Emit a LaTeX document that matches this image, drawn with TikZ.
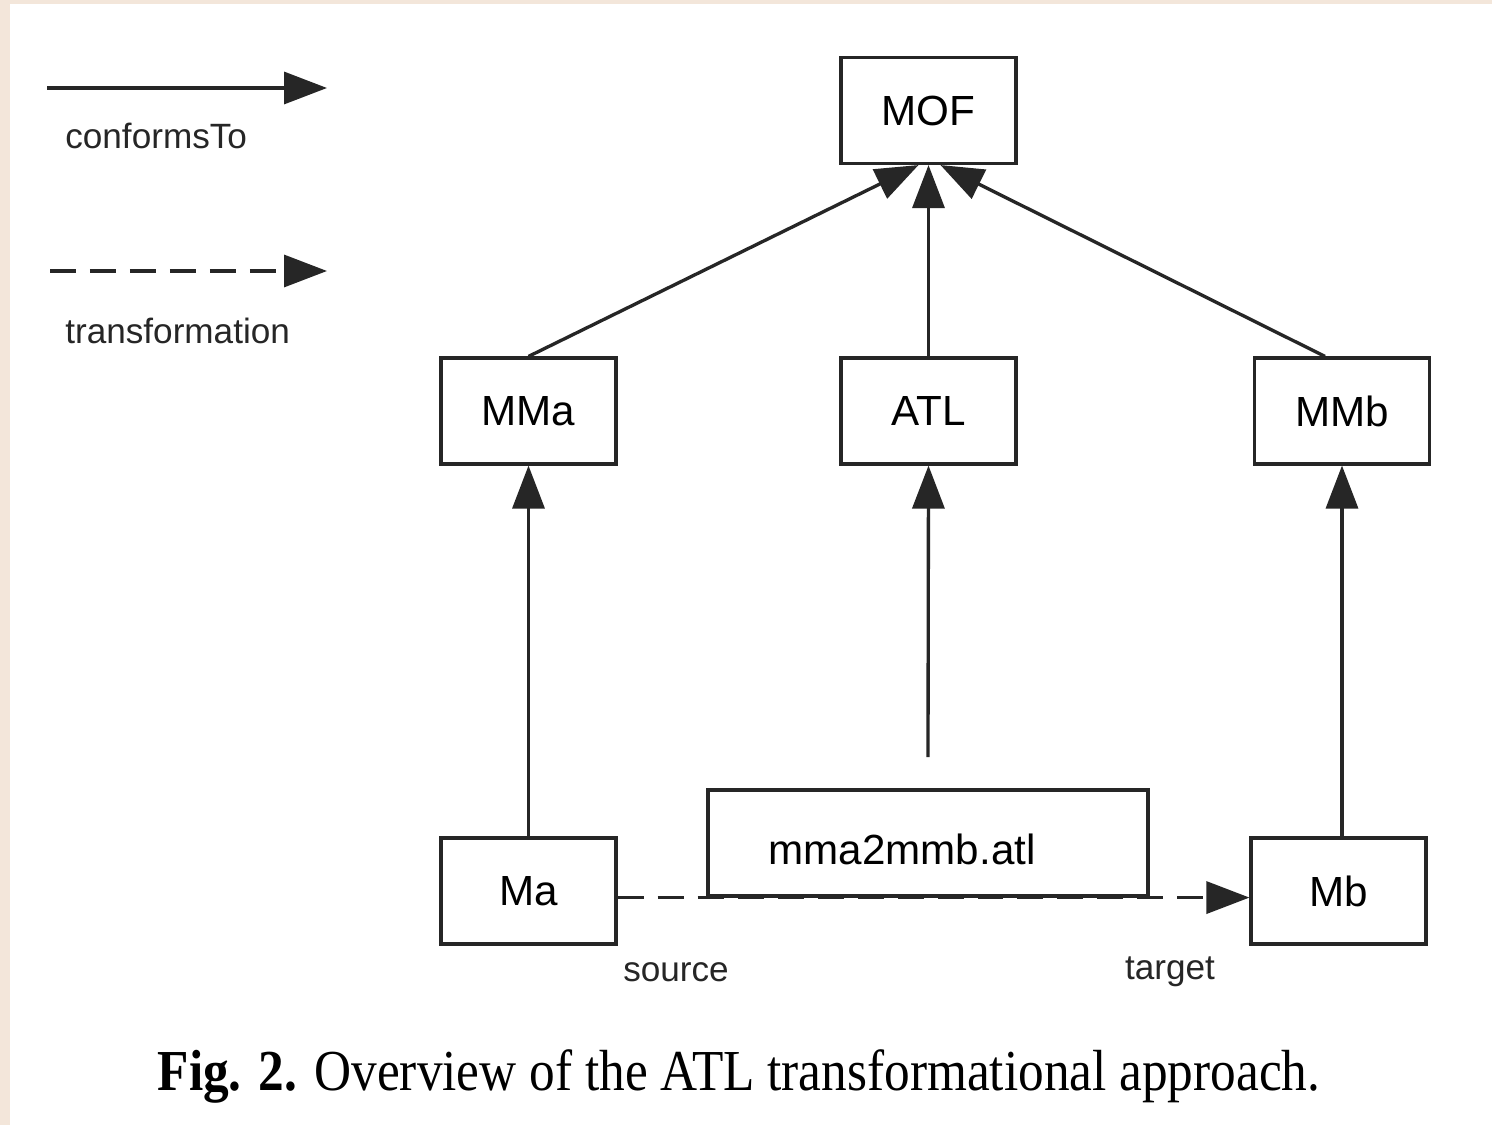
\documentclass[tikz,border=0pt]{standalone}
\usepackage{fontspec}
\setmainfont{Liberation Serif}
\newfontfamily\labelfont{Liberation Sans}
\usetikzlibrary{arrows.meta}
\definecolor{paper}{HTML}{F3E6DA}
\tikzset{
  conn/.style={line width=1.9pt, draw=black!85},
  tip/.style={-{Triangle[length=8.6mm,width=6.4mm]}},
  trans/.style={conn, dash pattern=on 0.52cm off 0.28cm},
  box/.style={draw=black!85, line width=1.8pt, fill=white, minimum width=3.5cm,
    minimum height=2.12cm, inner sep=0pt, font=\labelfont\fontsize{24}{28}\selectfont},
  small/.style={font=\labelfont\fontsize{20}{24}\selectfont, text=black!85, inner sep=0pt}
}
\begin{document}
\begin{tikzpicture}[x=0.02cm,y=-0.02cm]
  % page with a tinted edge on the left and top
  \fill[paper] (0,0) rectangle (1492,1125);
  \fill[white] (10,4) rectangle (1492,1125);
  \useasboundingbox (0,0) rectangle (1492,1125);

  % legend
  \coordinate (lsA) at (47,88);
  \coordinate (lsB) at (327,88);
  \draw[conn,tip] (lsA) -- (lsB);
  \node[small,anchor=west] (lconf) at (65,136) {conformsTo};
  \coordinate (ldA) at (50,271);
  \coordinate (ldB) at (327,271);
  \draw[trans,tip] (ldA) -- (ldB);
  \node[small,anchor=west] (ltrans) at (65,331) {transformation};

  % models and metamodels
  \node[box] (mof) at (928.5,110.5) {MOF};
  \node[box] (mma) at (528.5,411) {MMa};
  \node[box] (atl) at (928.5,411) {ATL};
  \node[box] (mmb) at (1342,411) {MMb};
  \node[box] (ma)  at (528.5,891) {Ma};
  \node[box] (mb)  at (1338.5,891) {Mb};
  \node[box, minimum width=8.8cm] (prog) at (928,843) {};
  \node[font=\labelfont\fontsize{24}{28}\selectfont, inner sep=0pt] (progtext) at (902,849) {mma2mmb.atl};

  % conformsTo relations
  \draw[conn,tip] (mma.north) -- ([xshift=-0.2cm]mof.south);
  \draw[conn,tip] (atl.north) -- (mof.south);
  \draw[conn,tip] ([xshift=-0.34cm]mmb.north) -- ([xshift=0.24cm]mof.south);
  \draw[conn,tip] (ma.north) -- (mma.south);
  \coordinate (progtop) at (928,757);
  \draw[conn,tip] (progtop) -- (atl.south);
  \draw[conn,tip] (mb.north -| mmb.south) -- (mmb.south);

  % transformation, running along the lower edge of the program box
  \draw[trans,tip] (ma.east |- prog.south) -- (mb.west |- prog.south);
  \node[small] (src) at (676,972) {source};
  \node[small] (tgt) at (1170,972) {target};

  % caption
  \node[inner sep=0pt, font=\fontsize{33}{38}\selectfont] (cap) at (739,1076)
    {\scalebox{0.885}[1]{\textbf{Fig. 2.} Overview of the ATL transformational approach.}};
\end{tikzpicture}
\end{document}
